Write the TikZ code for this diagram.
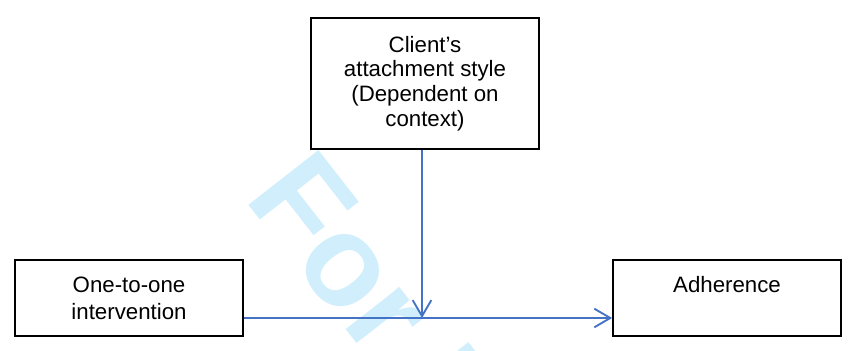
\documentclass[tikz,border=0pt]{standalone}
\usepackage{fontspec}
\setmainfont{Liberation Sans}
\usetikzlibrary{arrows.meta}
\definecolor{linkblue}{RGB}{68,114,196}
\definecolor{markblue}{RGB}{208,238,252}
\begin{document}
\begin{tikzpicture}[x=0.75pt, y=-0.75pt,
    box/.style={draw=black, line width=1.3pt, fill=white, minimum width=171pt,
        minimum height=57pt, align=center, inner sep=2pt,
        font=\fontsize{16.7}{20.5}\selectfont},
    link/.style={draw=linkblue, line width=1.4pt,
        -{Straight Barb[length=12pt, width=14pt]}}]
    \useasboundingbox (0,0) rectangle (849,350);

    % Watermark
    \begin{scope}
        \clip (0,0) rectangle (849,350);
        \node[text=markblue, font=\bfseries\fontsize{97}{97}\selectfont,
            rotate=-52, anchor=base west, inner sep=0pt] (mark) at (243,198) {For Peer Review};
    \end{scope}

    % Boxes
    \node[box, minimum height=98.25pt, font=\fontsize{16.7}{18.5}\selectfont] (client) at (425,83.5)
        {Client’s\\attachment style\\(Dependent on\\context)};
    \node[box] (oneone) at (129,298) {One-to-one\\intervention};
    \node[box] (adherence) at (727,298) {Adherence\\\mbox{}};

    % Arrows
    \coordinate (join) at (422,318);
    \draw[link] (oneone.east |- join) -- (adherence.west |- join);
    \draw[link] (client.south -| join) -- (join);
\end{tikzpicture}
\end{document}
